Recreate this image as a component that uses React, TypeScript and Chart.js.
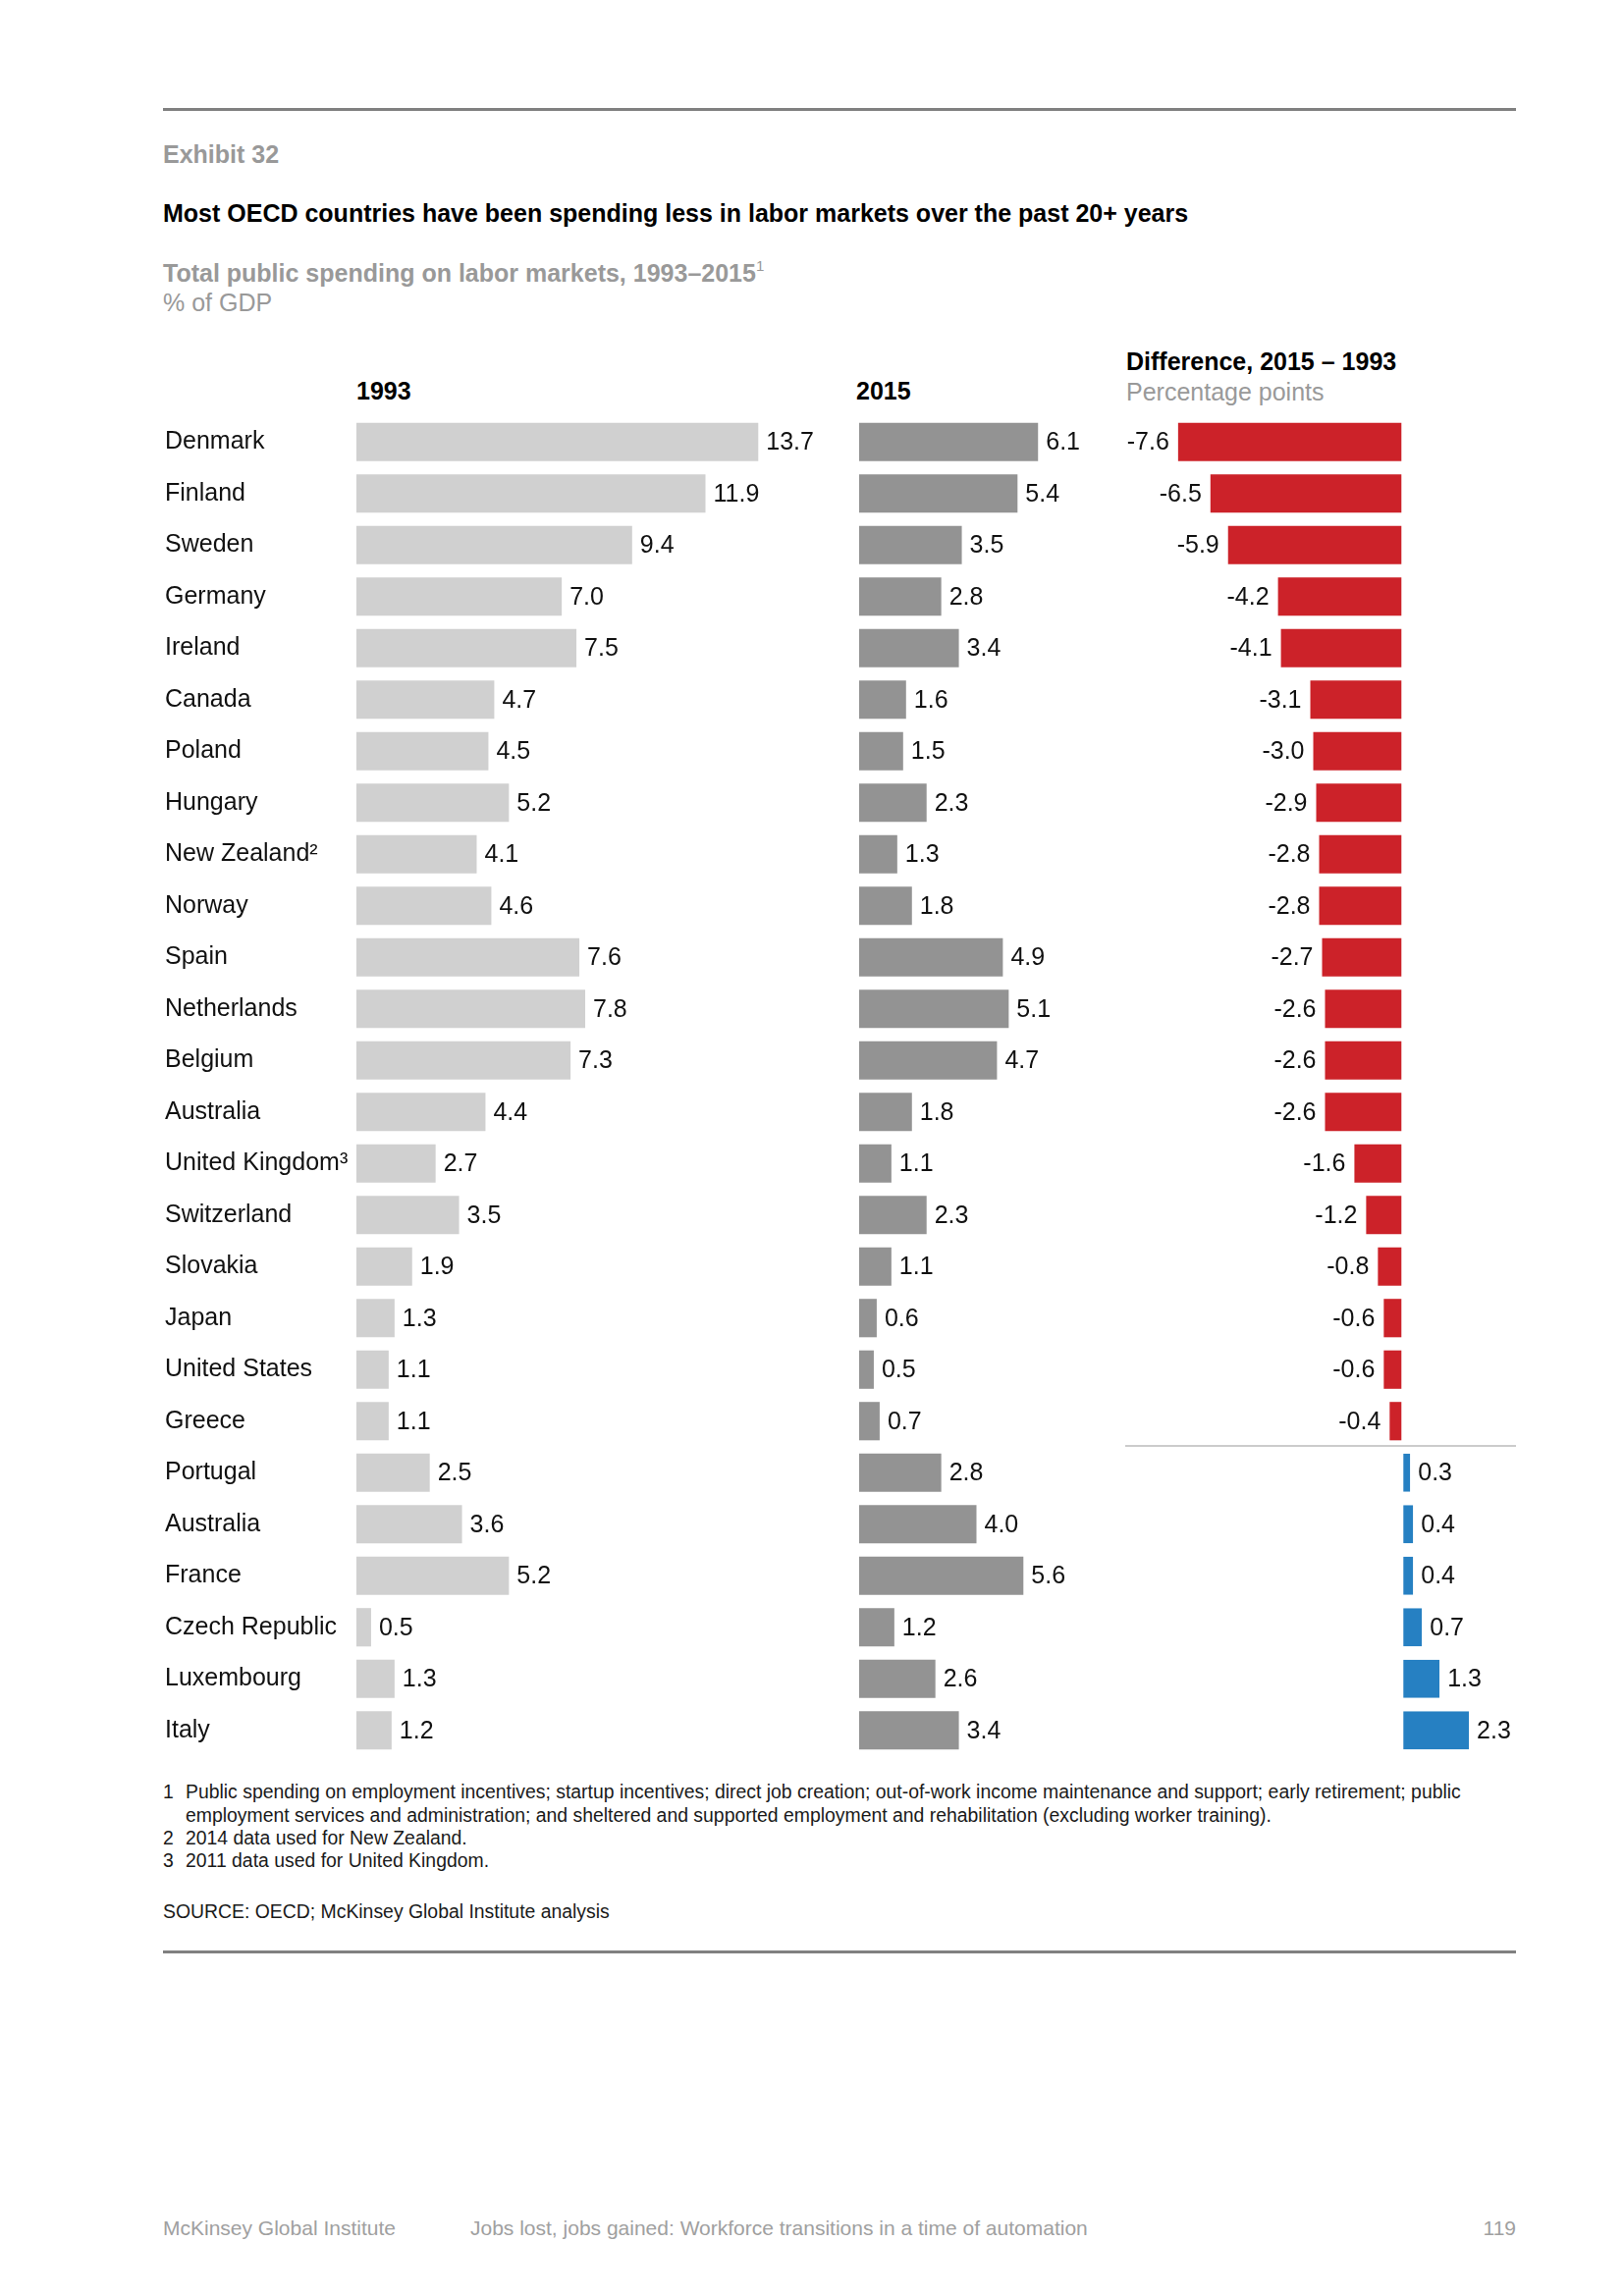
import React, { useEffect, useRef } from "react";
import { Chart, registerables } from "chart.js";

Chart.register(...registerables);

// ---------- data ----------
const countries = [
  "Denmark", "Finland", "Sweden", "Germany", "Ireland", "Canada", "Poland", "Hungary",
  "New Zealand\u00B2", "Norway", "Spain", "Netherlands", "Belgium", "Australia",
  "United Kingdom\u00B3", "Switzerland", "Slovakia", "Japan", "United States", "Greece",
  "Portugal", "Australia", "France", "Czech Republic", "Luxembourg", "Italy",
];
const spending1993 = [13.7, 11.9, 9.4, 7.0, 7.5, 4.7, 4.5, 5.2, 4.1, 4.6, 7.6, 7.8, 7.3, 4.4, 2.7, 3.5, 1.9, 1.3, 1.1, 1.1, 2.5, 3.6, 5.2, 0.5, 1.3, 1.2];
const spending2015 = [6.1, 5.4, 3.5, 2.8, 3.4, 1.6, 1.5, 2.3, 1.3, 1.8, 4.9, 5.1, 4.7, 1.8, 1.1, 2.3, 1.1, 0.6, 0.5, 0.7, 2.8, 4.0, 5.6, 1.2, 2.6, 3.4];
const difference = [-7.6, -6.5, -5.9, -4.2, -4.1, -3.1, -3.0, -2.9, -2.8, -2.8, -2.7, -2.6, -2.6, -2.6, -1.6, -1.2, -0.8, -0.6, -0.6, -0.4, 0.3, 0.4, 0.4, 0.7, 1.3, 2.3];

const FONT = "Arial, 'Liberation Sans', Helvetica, sans-serif";
const C1993 = "#d0d0d0";
const C2015 = "#939393";
const CNEG = "#cc2229";
const CPOS = "#2680c2";

const valueLabels = {
  id: "valueLabels",
  afterDatasetsDraw(chart: any) {
    const ctx = chart.ctx;
    ctx.save();
    ctx.font = `25px ${FONT}`;
    ctx.fillStyle = "#111";
    ctx.textBaseline = "middle";
    chart.data.datasets.forEach((ds: any, di: number) => {
      const meta = chart.getDatasetMeta(di);
      meta.data.forEach((el: any, i: number) => {
        const v = ds.data[i];
        const txt = v.toFixed(1);
        if (v >= 0) {
          ctx.textAlign = "left";
          ctx.fillText(txt, el.x + 8, el.y + 1);
        } else {
          ctx.textAlign = "right";
          ctx.fillText(txt, el.x - 9, el.y + 1);
        }
      });
    });
    ctx.restore();
  },
};

const separator = {
  id: "separator",
  afterDatasetsDraw(chart: any) {
    const idx = difference.findIndex((v) => v > 0);
    if (idx <= 0) return;
    const y = chart.scales.y;
    const yy = (y.getPixelForValue(idx - 1) + y.getPixelForValue(idx)) / 2 - 1;
    const ctx = chart.ctx;
    ctx.save();
    ctx.strokeStyle = "#cccccc";
    ctx.lineWidth = 2;
    ctx.beginPath();
    ctx.moveTo(chart.chartArea.left, yy);
    ctx.lineTo(chart.chartArea.right, yy);
    ctx.stroke();
    ctx.restore();
  },
};

function makeChart(
  canvas: HTMLCanvasElement,
  values: number[],
  colors: string | string[],
  min: number,
  max: number,
  showLabels: boolean,
  padding: any,
  extraPlugins: any[]
) {
  return new Chart(canvas, {
    type: "bar",
    data: {
      labels: countries,
      datasets: [
        {
          data: values,
          backgroundColor: colors,
          borderColor: "#ffffff",
          borderSkipped: false,
          borderWidth: (c: any) => (c.raw > 0 && min < 0 ? { left: 2, right: 0, top: 0, bottom: 0 } : 0),
          barPercentage: 0.745,
          categoryPercentage: 1,
        },
      ],
    },
    options: {
      indexAxis: "y",
      responsive: false,
      animation: false,
      devicePixelRatio: 1,
      layout: { padding },
      plugins: { legend: { display: false }, tooltip: { enabled: false }, title: { display: false } },
      scales: {
        x: { display: false, min, max },
        y: showLabels
          ? {
              display: true,
              grid: { display: false, drawTicks: false },
              border: { display: false },
              ticks: {
                autoSkip: false,
                crossAlign: "far",
                padding: 0,
                color: "#111",
                font: { family: FONT, size: 25 },
              },
              afterFit: (scale: any) => {
                scale.width = 195;
              },
            }
          : { display: false },
      },
    },
    plugins: [valueLabels, ...extraPlugins],
  } as any);
}

const T = ({ x, y, size = 25, bold = false, color = "#111", children, align = "left" }: any) => {
  const lh = Math.round(size * 1.2);
  const style: any = {
    position: "absolute",
    top: y - lh / 2,
    fontSize: size,
    lineHeight: `${lh}px`,
    fontWeight: bold ? "bold" : "normal",
    color,
    whiteSpace: "nowrap",
    fontFamily: FONT,
  };
  if (align === "right") style.right = 1654 - x;
  else style.left = x;
  return <div style={style}>{children}</div>;
};

export default function App() {
  const r1 = useRef<HTMLCanvasElement>(null);
  const r2 = useRef<HTMLCanvasElement>(null);
  const r3 = useRef<HTMLCanvasElement>(null);

  useEffect(() => {
    const c1 = makeChart(r1.current!, spending1993, C1993, 0, 16, true, { left: 8, right: 0, top: 15, bottom: 15 }, []);
    const c2 = makeChart(r2.current!, spending2015, C2015, 0, 8, false, { left: 0, right: 0, top: 15, bottom: 15 }, []);
    const c3 = makeChart(
      r3.current!,
      difference,
      difference.map((v) => (v < 0 ? CNEG : CPOS)),
      -9.4,
      3.9,
      false,
      { left: 26, right: 10, top: 15, bottom: 15 },
      [separator]
    );
    return () => {
      c1.destroy();
      c2.destroy();
      c3.destroy();
    };
  }, []);

  const gray = "#999999";
  const foot = "#1a1a1a";

  return (
    <div style={{ position: "absolute", left: 0, top: 0, width: 1654, height: 2339, background: "#fff", fontFamily: FONT }}>
      <div style={{ position: "absolute", left: 166, top: 110, width: 1378, height: 3, background: "#808080" }} />
      <T x={166} y={157} bold color={gray}>Exhibit 32</T>
      <T x={166} y={217} bold color="#000">Most OECD countries have been spending less in labor markets over the past 20+ years</T>
      <T x={166} y={278} bold color={gray}>
        Total public spending on labor markets, 1993–2015
        <span style={{ fontSize: 15, verticalAlign: "super", lineHeight: 0, fontWeight: "normal", position: "relative", top: -2 }}>1</span>
      </T>
      <T x={166} y={308} color={gray}>% of GDP</T>

      <T x={363} y={398} bold color="#000">1993</T>
      <T x={872} y={398} bold color="#000">2015</T>
      <T x={1147} y={368} bold color="#000">Difference, 2015 – 1993</T>
      <T x={1147} y={399} color={gray}>Percentage points</T>

      <canvas ref={r1} width={681} height={1395} style={{ position: "absolute", left: 160, top: 409 }} />
      <canvas ref={r2} width={239} height={1395} style={{ position: "absolute", left: 875, top: 409 }} />
      <canvas ref={r3} width={434} height={1395} style={{ position: "absolute", left: 1120, top: 409 }} />

      <T x={166} y={1825} size={19.4} color={foot}>1</T>
      <T x={189} y={1825} size={19.4} color={foot}>Public spending on employment incentives; startup incentives; direct job creation; out-of-work income maintenance and support; early retirement; public</T>
      <T x={189} y={1849} size={19.4} color={foot}>employment services and administration; and sheltered and supported employment and rehabilitation (excluding worker training).</T>
      <T x={166} y={1872} size={19.4} color={foot}>2</T>
      <T x={189} y={1872} size={19.4} color={foot}>2014 data used for New Zealand.</T>
      <T x={166} y={1895} size={19.4} color={foot}>3</T>
      <T x={189} y={1895} size={19.4} color={foot}>2011 data used for United Kingdom.</T>
      <T x={166} y={1947} size={19.4} color={foot}>SOURCE: OECD; McKinsey Global Institute analysis</T>

      <div style={{ position: "absolute", left: 166, top: 1987, width: 1378, height: 3, background: "#808080" }} />

      <T x={166} y={2269} size={21} color="#a0a0a0">McKinsey Global Institute</T>
      <T x={479} y={2269} size={21} color="#a0a0a0">Jobs lost, jobs gained: Workforce transitions in a time of automation</T>
      <T x={1544} y={2269} size={21} color="#a0a0a0" align="right">119</T>
    </div>
  );
}
